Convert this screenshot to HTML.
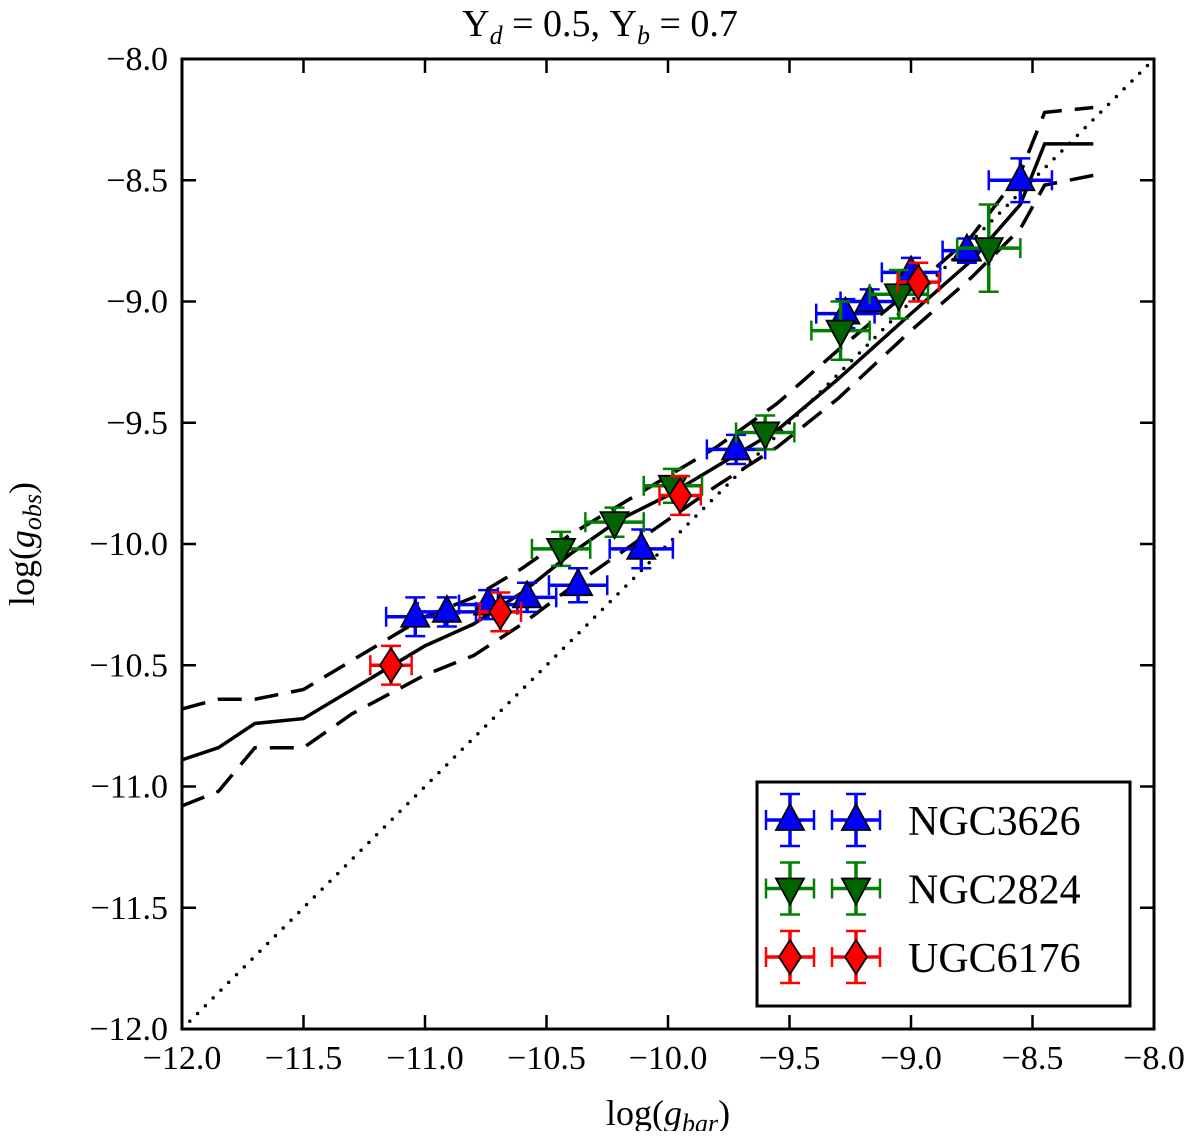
<!DOCTYPE html>
<html><head><meta charset="utf-8"><style>
body{margin:0;background:#fff}
svg text{font-family:"Liberation Serif",serif;fill:#000}
</style></head><body>
<svg id="chart" width="1200" height="1131" xmlns="http://www.w3.org/2000/svg">
<g id="marks"></g>
</svg>
<script>
const xTicks=[-12.0,-11.5,-11.0,-10.5,-10.0,-9.5,-9.0,-8.5,-8.0];
const yTicks=[-8.0,-8.5,-9.0,-9.5,-10.0,-10.5,-11.0,-11.5,-12.0];
const lineX=[-12,-11.85,-11.7,-11.5,-11.3,-11.0,-10.8,-10.6,-10.4,-10.2,-10.0,-9.8,-9.55,-9.3,-9.0,-8.75,-8.55,-8.45,-8.25];
const solidY=[-10.89,-10.84,-10.74,-10.72,-10.6,-10.42,-10.33,-10.2,-10.04,-9.9,-9.8,-9.68,-9.53,-9.32,-9.05,-8.83,-8.6,-8.35,-8.35];
const upperY=[-10.68,-10.64,-10.64,-10.6,-10.48,-10.3,-10.22,-10.1,-9.96,-9.84,-9.72,-9.6,-9.42,-9.2,-8.95,-8.73,-8.47,-8.22,-8.2];
const lowerY=[-11.08,-11.02,-10.84,-10.84,-10.7,-10.54,-10.46,-10.33,-10.18,-10.04,-9.9,-9.76,-9.6,-9.4,-9.12,-8.9,-8.7,-8.52,-8.48];
const n3626X=[-11.04,-10.91,-10.74,-10.58,-10.37,-10.11,-9.72,-9.27,-9.17,-9.00,-8.77,-8.55];
const n3626Y=[-10.30,-10.28,-10.25,-10.22,-10.17,-10.02,-9.61,-9.05,-9.00,-8.88,-8.79,-8.50];
const n3626Xe=[0.12,0.12,0.12,0.12,0.12,0.13,0.12,0.12,0.12,0.12,0.1,0.13];
const n3626Ye=[0.08,0.06,0.06,0.06,0.07,0.08,0.06,0.06,0.05,0.06,0.05,0.09];
const n2824X=[-10.44,-10.22,-9.98,-9.60,-9.29,-9.05,-8.68];
const n2824Y=[-10.02,-9.91,-9.76,-9.54,-9.12,-8.97,-8.78];
const n2824Xe=[0.12,0.12,0.12,0.12,0.12,0.12,0.13];
const n2824Ye=[0.07,0.06,0.07,0.07,0.12,0.1,0.18];
const u6176X=[-11.14,-10.69,-9.95,-8.97];
const u6176Y=[-10.50,-10.28,-9.80,-8.92];
const u6176Xe=[0.085,0.085,0.085,0.085];
const u6176Ye=[0.08,0.08,0.08,0.08];

const NS='http://www.w3.org/2000/svg';
const X0=182,X1=1154,Y0=59,Y1=1029;
const sx=v=>X0+(v+12)/4*(X1-X0);
const sy=v=>Y0+(-8-v)/4*(Y1-Y0);
const svg=document.getElementById('chart');
const g=document.getElementById('marks');
function mk(tag,attrs,parent){const e=document.createElementNS(NS,tag);for(const k in attrs)e.setAttribute(k,attrs[k]);(parent||g).appendChild(e);return e;}

const defs=mk('defs',{},svg);
const cp=mk('clipPath',{id:'clip'},defs);
mk('rect',{x:X0,y:Y0,width:X1-X0,height:Y1-Y0},cp);
const plot=mk('g',{'clip-path':'url(#clip)'});



const dl=mk('line',{x1:sx(-12),y1:sy(-12),x2:sx(-8),y2:sy(-8),stroke:'#000','stroke-width':3.5,'stroke-dasharray':'0 11','stroke-linecap':'round'},plot);



function path(ys,dash,name){
  const d=lineX.map((x,i)=>(i?'L':'M')+sx(x)+','+sy(ys[i])).join('');
  const p=mk('path',{d:d,fill:'none',stroke:'#000','stroke-width':3.5,'stroke-dasharray':dash},plot);
  
  
}
path(solidY,'none','mean-relation-line');
path(upperY,'24 13','upper-scatter-line');
path(lowerY,'24 13','lower-scatter-line');

function marker(cx,cy,shape,fill,parent){
  let pts;
  if(shape==='up')pts=[[cx,cy-16],[cx-14,cy+10],[cx+14,cy+10]];
  else if(shape==='down')pts=[[cx,cy+16],[cx-14,cy-10],[cx+14,cy-10]];
  else pts=[[cx,cy-17],[cx+11,cy],[cx,cy+17],[cx-11,cy]];
  return mk('polygon',{points:pts.map(p=>p.join(',')).join(' '),fill:fill,stroke:'#000','stroke-width':1.8},parent);
}
function errbar(cx,cy,xe,ye,col,parent){
  mk('line',{x1:cx-xe,y1:cy,x2:cx+xe,y2:cy,stroke:col,'stroke-width':3.5},parent);
  mk('line',{x1:cx,y1:cy-ye,x2:cx,y2:cy+ye,stroke:col,'stroke-width':3.5},parent);
  mk('line',{x1:cx-xe,y1:cy-10,x2:cx-xe,y2:cy+10,stroke:col,'stroke-width':2.5},parent);
  mk('line',{x1:cx+xe,y1:cy-10,x2:cx+xe,y2:cy+10,stroke:col,'stroke-width':2.5},parent);
  mk('line',{x1:cx-10,y1:cy-ye,x2:cx+10,y2:cy-ye,stroke:col,'stroke-width':2.5},parent);
  mk('line',{x1:cx-10,y1:cy+ye,x2:cx+10,y2:cy+ye,stroke:col,'stroke-width':2.5},parent);
}
function series(xs,ys,xe,ye,col,fill,shape,name){
  const sg=mk('g',{},plot);
  
  
  xs.forEach((x,i)=>{
    const cx=sx(x),cy=sy(ys[i]);
    const pg=mk('g',{},sg);
    
    
    errbar(cx,cy,sx(x+xe[i])-cx,cy-sy(ys[i]+ye[i]),col,pg);
    marker(cx,cy,shape,fill,pg);
  });
}
series(n3626X,n3626Y,n3626Xe,n3626Ye,'#0000ff','#0000ff','up','ngc3626-series');
series(n2824X,n2824Y,n2824Xe,n2824Ye,'#008000','#006400','down','ngc2824-series');
series(u6176X,u6176Y,u6176Xe,u6176Ye,'#ff0000','#ff0000','diamond','ugc6176-series');

const fr=mk('rect',{x:X0,y:Y0,width:X1-X0,height:Y1-Y0,fill:'none',stroke:'#000','stroke-width':3});



xTicks.forEach(v=>{
  const x=sx(v);
  mk('line',{x1:x,y1:Y1,x2:x,y2:Y1-14,stroke:'#000','stroke-width':2.5});
  mk('line',{x1:x,y1:Y0,x2:x,y2:Y0+14,stroke:'#000','stroke-width':2.5});
  const t=mk('text',{x:x,y:Y1+40,'text-anchor':'middle','font-size':34});
  t.textContent='\u2212'+Math.abs(v).toFixed(1);
  
  
});
yTicks.forEach(v=>{
  const y=sy(v);
  mk('line',{x1:X0,y1:y,x2:X0+14,y2:y,stroke:'#000','stroke-width':2.5});
  mk('line',{x1:X1,y1:y,x2:X1-14,y2:y,stroke:'#000','stroke-width':2.5});
  const t=mk('text',{x:X0-14,y:y+11,'text-anchor':'end','font-size':34});
  t.textContent='\u2212'+Math.abs(v).toFixed(1);
  
  
});

const lg=mk('g',{});


mk('rect',{x:757,y:782,width:373,height:224,fill:'#fff',stroke:'#000','stroke-width':3},lg);
const legNames=['NGC3626','NGC2824','UGC6176'];
const legCols=[['#0000ff','#0000ff','up'],['#008000','#006400','down'],['#ff0000','#ff0000','diamond']];
legNames.forEach((nm,i)=>{
  const y=820+i*68.5;
  const eg=mk('g',{},lg);
  
  
  [790,856].forEach(cx=>{
    errbar(cx,y,24,26,legCols[i][0],eg);
    marker(cx,y,legCols[i][2],legCols[i][1],eg);
  });
  const t=mk('text',{x:908,y:y+15,'font-size':42},eg);
  t.textContent=nm;
});
</script>
<svg width="1200" height="1131" style="position:absolute;left:0;top:0" xmlns="http://www.w3.org/2000/svg">
<text x="600" y="36" text-anchor="middle" font-size="38" font-family="Liberation Serif, serif">Υ<tspan font-style="italic" font-size="26" dy="8">d</tspan><tspan dy="-8"> = 0.5, Υ</tspan><tspan font-style="italic" font-size="26" dy="8">b</tspan><tspan dy="-8"> = 0.7</tspan></text>
<text x="668" y="1125" text-anchor="middle" font-size="36" font-family="Liberation Serif, serif">log(<tspan font-style="italic">g</tspan><tspan font-style="italic" font-size="26" dy="7">bar</tspan><tspan dy="-7">)</tspan></text>
<text transform="translate(34,544) rotate(-90)" text-anchor="middle" font-size="36" font-family="Liberation Serif, serif">log(<tspan font-style="italic">g</tspan><tspan font-style="italic" font-size="26" dy="7">obs</tspan><tspan dy="-7">)</tspan></text>
</svg>
</body></html>
